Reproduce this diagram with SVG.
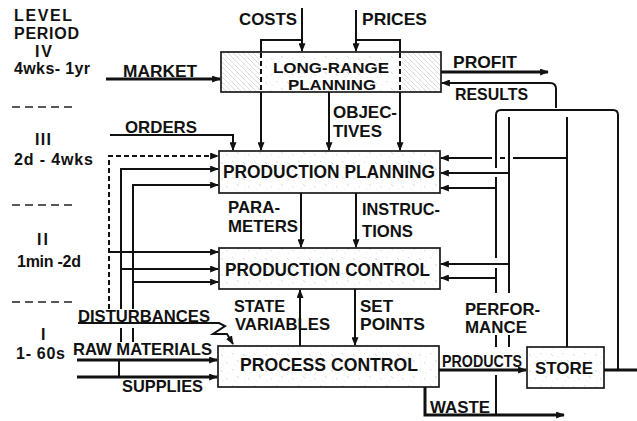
<svg xmlns="http://www.w3.org/2000/svg" width="637" height="421" viewBox="0 0 637 421">
  <style>
    .t { font-family: "Liberation Sans", Arial, sans-serif; font-weight: bold; font-size: 16.5px; fill: #111; }
    .lv { font-size: 16px; }
    .big { font-size: 18px; }
    .mid { font-size: 15.5px; }
    .box { fill: url(#stipple); stroke: #1a1a1a; stroke-width: 1.7; }
    .c { fill: none; stroke: #111; stroke-width: 2; }
    .thick { stroke-width: 3; }
    .dash { stroke-dasharray: 5 3; }
    .sep { fill: none; stroke: #222; stroke-width: 1.5; stroke-dasharray: 8 5; }
  </style>
  <defs>
    <!-- light stippled hatch used inside the blocks -->
    <pattern id="stipple" width="22" height="16" patternUnits="userSpaceOnUse">
      <rect width="22" height="16" fill="#fff"/>
      <g stroke="#bdbdbd" stroke-width="0.6">
        <path d="M1,2 l2,2 M12,1 l1.5,1.5 M17,8 l2,2 M6,10 l1.5,1.5"/>
      </g>
      <g fill="#c4c4c4">
        <circle cx="8" cy="5" r="0.45"/>
        <circle cx="3" cy="13" r="0.45"/>
        <circle cx="15" cy="13" r="0.4"/>
      </g>
    </pattern>
    <!-- denser hatch for the end panels of the long-range block -->
    <pattern id="hatch" width="5" height="5" patternUnits="userSpaceOnUse">
      <rect width="5" height="5" fill="#fff"/>
      <path d="M0,0 L5,5" stroke="#999" stroke-width="0.7"/>
    </pattern>
    <marker id="ah" viewBox="0 0 10 8" refX="9" refY="4" markerWidth="9" markerHeight="7" orient="auto" markerUnits="userSpaceOnUse">
      <path d="M0,0 L10,4 L0,8 z" fill="#111"/>
    </marker>
  </defs>

  <rect width="637" height="421" fill="#fff"/>

  <!-- level / period column -->
  <g id="levels">
    <text class="t lv" x="14" y="21" textLength="58">LEVEL</text>
    <text class="t lv" x="14" y="39" textLength="65">PERIOD</text>
    <text class="t lv" x="35" y="57" textLength="17">IV</text>
    <text class="t lv" x="14" y="74" textLength="76">4wks- 1yr</text>
    <path class="sep" d="M12,107 H77"/>
    <text class="t lv" x="35" y="145" textLength="16">III</text>
    <text class="t lv" x="14" y="165" textLength="79">2d - 4wks</text>
    <path class="sep" d="M12,205 H77"/>
    <text class="t lv" x="37" y="245" textLength="11">II</text>
    <text class="t lv" x="17" y="267" textLength="64">1min -2d</text>
    <path class="sep" d="M12,302 H77"/>
    <text class="t lv" x="41" y="340">I</text>
    <text class="t lv" x="16" y="359" textLength="49">1- 60s</text>
  </g>

  <!-- blocks -->
  <g id="long-range-planning">
    <rect class="box" x="221" y="52" width="220" height="40"/>
    <rect x="222" y="53" width="38" height="38" fill="url(#hatch)" opacity="0.5"/>
    <rect x="402" y="53" width="38" height="38" fill="url(#hatch)" opacity="0.5"/>
    <text class="t mid" x="273" y="73" textLength="116" lengthAdjust="spacingAndGlyphs">LONG-RANGE</text>
    <text class="t mid" x="288" y="90" textLength="88" lengthAdjust="spacingAndGlyphs">PLANNING</text>
  </g>
  <g id="production-planning">
    <rect class="box" x="219" y="151" width="221" height="42"/>
    <text class="t big" x="223" y="178" textLength="212" lengthAdjust="spacingAndGlyphs">PRODUCTION PLANNING</text>
  </g>
  <g id="production-control">
    <rect class="box" x="219" y="248" width="221" height="41"/>
    <text class="t big" x="225" y="276" textLength="205" lengthAdjust="spacingAndGlyphs">PRODUCTION CONTROL</text>
  </g>
  <g id="process-control">
    <rect class="box" x="218" y="346" width="221" height="41"/>
    <text class="t big" x="240" y="371" textLength="178" lengthAdjust="spacingAndGlyphs">PROCESS CONTROL</text>
  </g>
  <g id="store">
    <rect class="box" x="527" y="347" width="77" height="41"/>
    <text class="t" x="535" y="374" textLength="58" lengthAdjust="spacingAndGlyphs">STORE</text>
  </g>

  <!-- flows -->
  <g id="connectors">
    <!-- costs and prices -->
    <path class="c" d="M302,8 V51" marker-end="url(#ah)"/>
    <path class="c" d="M302,40 H261 V52"/>
    <path class="c dash" d="M261,53 V92" stroke-width="2.6"/>
    <path class="c" d="M261,92 V150" marker-end="url(#ah)"/>
    <path class="c" d="M356,10 V51" marker-end="url(#ah)"/>
    <path class="c" d="M356,40 H400 V52"/>
    <path class="c dash" d="M400,53 V92" stroke-width="2.6"/>
    <path class="c" d="M400,92 V150" marker-end="url(#ah)"/>
    <path class="c" d="M329,92 V150" marker-end="url(#ah)"/>

    <!-- market, profit, results -->
    <path class="c thick" d="M106,79 H220" marker-end="url(#ah)"/>
    <path class="c thick" d="M441,72 H548" marker-end="url(#ah)"/>
    <path class="c" d="M556,108 V89 Q556,83 550,83 H442" marker-end="url(#ah)"/>
    <path class="c" d="M496,168 V115 Q496,110 501,110 H613 Q618,110 618,115 V370"/>

    <!-- orders -->
    <path class="c" d="M110,135 H233 V150" marker-end="url(#ah)"/>

    <!-- feed-forward from the process level (left) -->
    <path class="c dash" d="M109,309 V156 H218" marker-end="url(#ah)"/>
    <path class="c" d="M121,309 V169 H218" marker-end="url(#ah)"/>
    <path class="c" d="M133,309 V185 H218" marker-end="url(#ah)"/>
    <path class="c" d="M109,252 H218" marker-end="url(#ah)"/>
    <path class="c" d="M121,269 H218" marker-end="url(#ah)"/>
    <path class="c" d="M133,282 H218" marker-end="url(#ah)"/>
    <path class="c" d="M121,328 V342 M133,328 V342 M119,360 V377"/>

    <!-- performance feedback (right) -->
    <path class="c" d="M567,347 V117"/>
    <path class="c" d="M567,158 H513 M505,158 H500"/>
    <path class="c" d="M492,158 H441" marker-end="url(#ah)"/>
    <path class="c" d="M509,117 V293"/>
    <path class="c" d="M509,173 H441" marker-end="url(#ah)"/>
    <path class="c" d="M496,177 V258 M496,268 V293"/>
    <path class="c" d="M496,188 H441" marker-end="url(#ah)"/>
    <path class="c" d="M509,264 H441" marker-end="url(#ah)"/>
    <path class="c" d="M496,278 H441" marker-end="url(#ah)"/>
    <path class="c" d="M496,335 V347 M509,335 V347 M496,375 V415"/>

    <!-- between planning and control levels -->
    <path class="c" d="M301,193 V247" marker-end="url(#ah)"/>
    <path class="c" d="M356,193 V247" marker-end="url(#ah)"/>
    <path class="c" d="M300,346 V290" marker-end="url(#ah)"/>
    <path class="c" d="M355,289 V345" marker-end="url(#ah)"/>

    <!-- process inputs -->
    <path class="c" d="M78,323 H219 L225,326 L213,334 L227,334 L233,344" stroke-width="1.6" marker-end="url(#ah)"/>
    <path class="c thick" d="M77,360 H217" marker-end="url(#ah)"/>
    <path class="c thick" d="M77,377 H217" marker-end="url(#ah)"/>

    <!-- process outputs -->
    <path class="c thick" d="M439,370 H526" marker-end="url(#ah)"/>
    <path class="c thick" d="M425,387 V415 H564" marker-end="url(#ah)"/>
    <path class="c thick" d="M604,370 H637"/>
  </g>

  <!-- flow labels -->
  <g id="labels">
    <text class="t" x="239" y="25" textLength="58" lengthAdjust="spacingAndGlyphs">COSTS</text>
    <text class="t" x="362" y="25" textLength="65" lengthAdjust="spacingAndGlyphs">PRICES</text>
    <text class="t" x="123" y="77" textLength="74" lengthAdjust="spacingAndGlyphs">MARKET</text>
    <text class="t" x="453" y="68" textLength="64" lengthAdjust="spacingAndGlyphs">PROFIT</text>
    <text class="t" x="455" y="100" textLength="73" lengthAdjust="spacingAndGlyphs">RESULTS</text>
    <text class="t" x="333" y="118" textLength="64" lengthAdjust="spacingAndGlyphs">OBJEC-</text>
    <text class="t" x="333" y="137" textLength="49" lengthAdjust="spacingAndGlyphs">TIVES</text>
    <text class="t" x="125" y="133" textLength="72" lengthAdjust="spacingAndGlyphs">ORDERS</text>
    <text class="t" x="228" y="213" textLength="52" lengthAdjust="spacingAndGlyphs">PARA-</text>
    <text class="t" x="228" y="232" textLength="70" lengthAdjust="spacingAndGlyphs">METERS</text>
    <text class="t" x="362" y="215" textLength="78" lengthAdjust="spacingAndGlyphs">INSTRUC-</text>
    <text class="t" x="362" y="237" textLength="51" lengthAdjust="spacingAndGlyphs">TIONS</text>
    <text class="t" x="465" y="315" textLength="75" lengthAdjust="spacingAndGlyphs">PERFOR-</text>
    <text class="t" x="465" y="333" textLength="62" lengthAdjust="spacingAndGlyphs">MANCE</text>
    <text class="t" x="78" y="322" textLength="132" lengthAdjust="spacingAndGlyphs">DISTURBANCES</text>
    <text class="t" x="234" y="312" textLength="51" lengthAdjust="spacingAndGlyphs">STATE</text>
    <text class="t" x="235" y="330" textLength="95" lengthAdjust="spacingAndGlyphs">VARIABLES</text>
    <text class="t" x="360" y="312" textLength="33" lengthAdjust="spacingAndGlyphs">SET</text>
    <text class="t" x="360" y="330" textLength="65" lengthAdjust="spacingAndGlyphs">POINTS</text>
    <text class="t" x="73" y="355" textLength="139" lengthAdjust="spacingAndGlyphs">RAW MATERIALS</text>
    <text class="t" x="442" y="367" textLength="80" lengthAdjust="spacingAndGlyphs">PRODUCTS</text>
    <text class="t" x="122" y="392" textLength="81" lengthAdjust="spacingAndGlyphs">SUPPLIES</text>
    <text class="t" x="430" y="413" textLength="60" lengthAdjust="spacingAndGlyphs">WASTE</text>
  </g>
</svg>
